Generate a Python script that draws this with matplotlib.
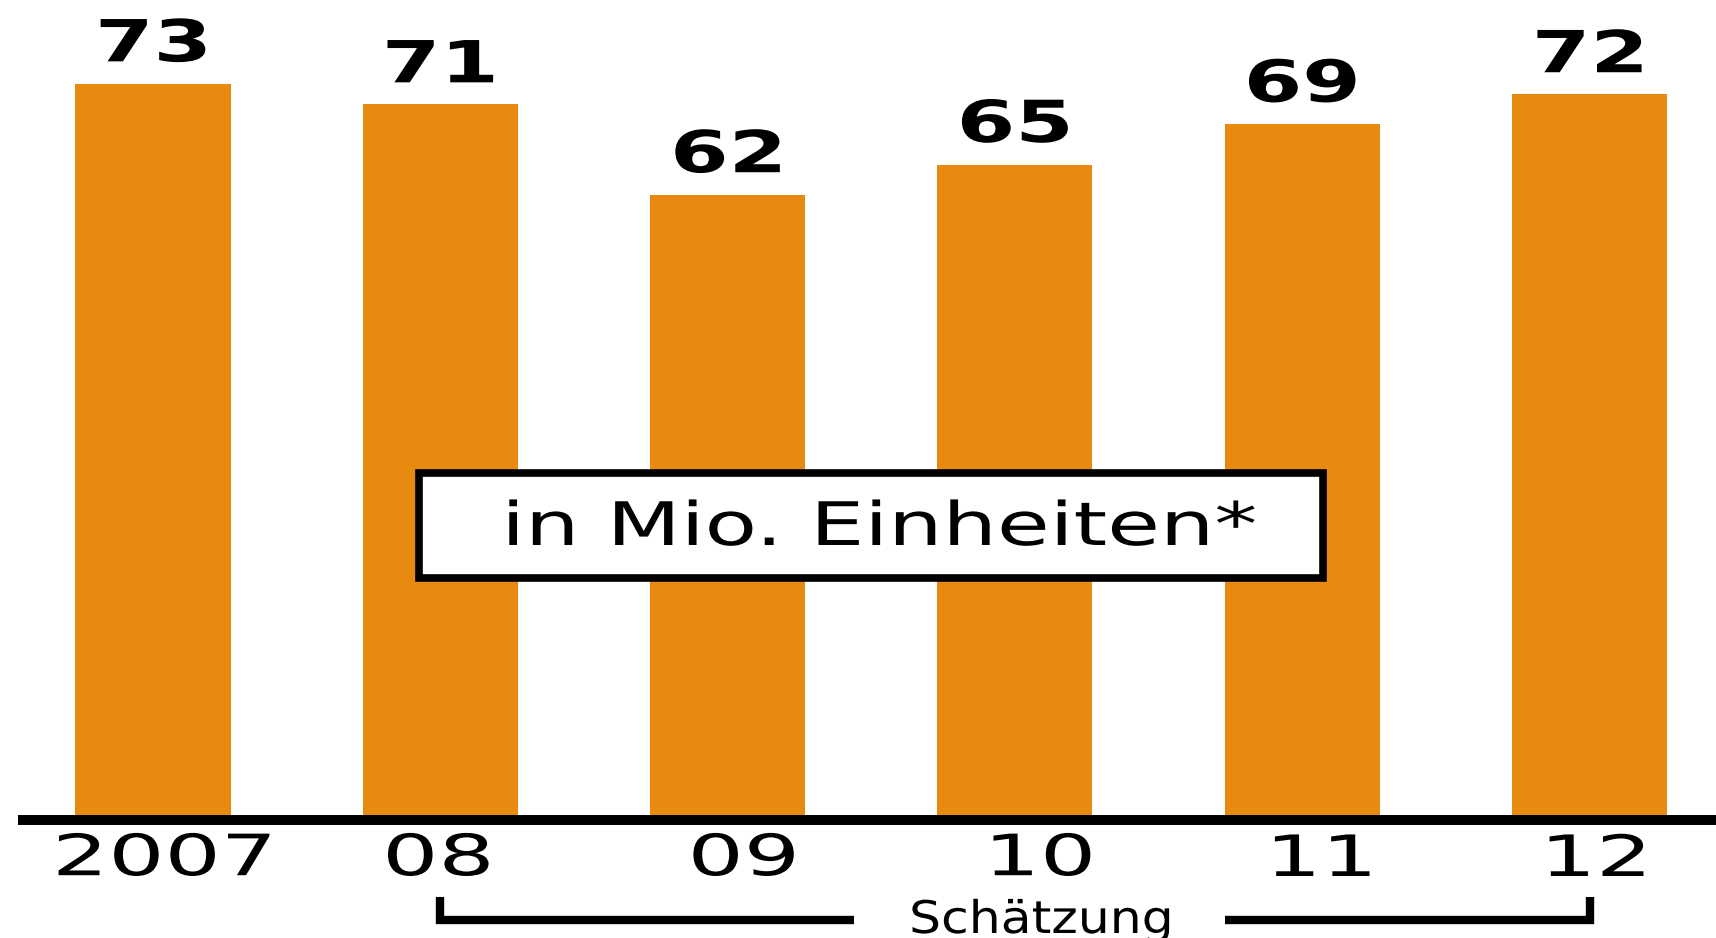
import matplotlib
matplotlib.use("Agg")
import matplotlib.pyplot as plt
from matplotlib.textpath import TextPath
from matplotlib.patches import PathPatch, Rectangle
from matplotlib.font_manager import FontProperties
from matplotlib.transforms import Affine2D, ScaledTranslation, blended_transform_factory

years = ['2007', '08', '09', '10', '11', '12']
units = [73, 71, 62, 65, 69, 72]  # Mio. Einheiten
box_label = 'in Mio. Einheiten*'
estimate_label = 'Schätzung'
estimate_from, estimate_to = 1, 5  # index range of estimated years

orange = '#E98A10'
DPI = 100
W, H = 1716, 938

fig = plt.figure(figsize=(W / DPI, H / DPI), dpi=DPI)
ax = fig.add_axes([0, 0, 1, 1])
ax.axis('off')

# px per unit in y, px per category step in x
ypx = 10.08
xpx = 287.3
ax.set_ylim(-118 / ypx, 820 / ypx)
ax.set_xlim(-153 / xpx, (W - 153) / xpx)

xs = list(range(len(years)))
ax.bar(xs, units, width=0.54, color=orange, zorder=2)
ax.axhline(0, xmin=18 / W, xmax=1, color='black', lw=7.2, zorder=3,
           solid_capstyle='butt')


def wide_text(x, y, s, em, stretch, trans, weight='normal', anchor='baseline', dy=0):
    """draw text as a path, stretched horizontally; em in px"""
    fp = FontProperties(family='DejaVu Sans', weight=weight)
    path = TextPath((0, 0), s, size=em, prop=fp)
    ext = path.get_extents()
    cx = (ext.x0 + ext.x1) / 2
    oy = ext.y0 if anchor == 'bottom' else 0
    t = (Affine2D().translate(-cx, -oy).scale(stretch, 1).translate(0, dy)
         + ScaledTranslation(x, y, trans))
    p = PathPatch(path, transform=t, facecolor='black', edgecolor='none', zorder=5)
    ax.add_artist(p)


# value labels above bars
for x, v in zip(xs, units):
    wide_text(x, v, str(v), 58, 1.45, ax.transData, weight='bold', anchor='bottom', dy=22)

# year labels under the axis
xy_blend = blended_transform_factory(ax.transData, fig.transFigure)
label_shift = [11, -2, 16, 27, 20, 7]  # px
for x, lab, sh in zip(xs, years, label_shift):
    wide_text(x + sh / xpx, 1 - 876 / H, lab, 57, 1.55, xy_blend, anchor='bottom')

# unit box
box = Rectangle((419 / W, 1 - 578 / H), 904 / W, 105 / H, transform=fig.transFigure,
                facecolor='white', edgecolor='black', lw=5.5, zorder=4)
ax.add_artist(box)
wide_text(882 / W, 1 - 545 / H, box_label, 60, 1.43, fig.transFigure)

# bracket for estimated years
y_top, y_line = 1 - 897 / H, 1 - 920 / H
ax.plot([estimate_from, estimate_from, 2.44], [y_top, y_line, y_line], transform=xy_blend,
        color='black', lw=6, solid_joinstyle='miter', solid_capstyle='butt', clip_on=False)
ax.plot([3.73, estimate_to, estimate_to], [y_line, y_line, y_top], transform=xy_blend,
        color='black', lw=6, solid_joinstyle='miter', solid_capstyle='butt', clip_on=False)
wide_text(3.09, 1 - 933 / H, estimate_label, 45, 1.12, xy_blend)

fig.savefig('out.png', dpi=DPI, facecolor='white')
